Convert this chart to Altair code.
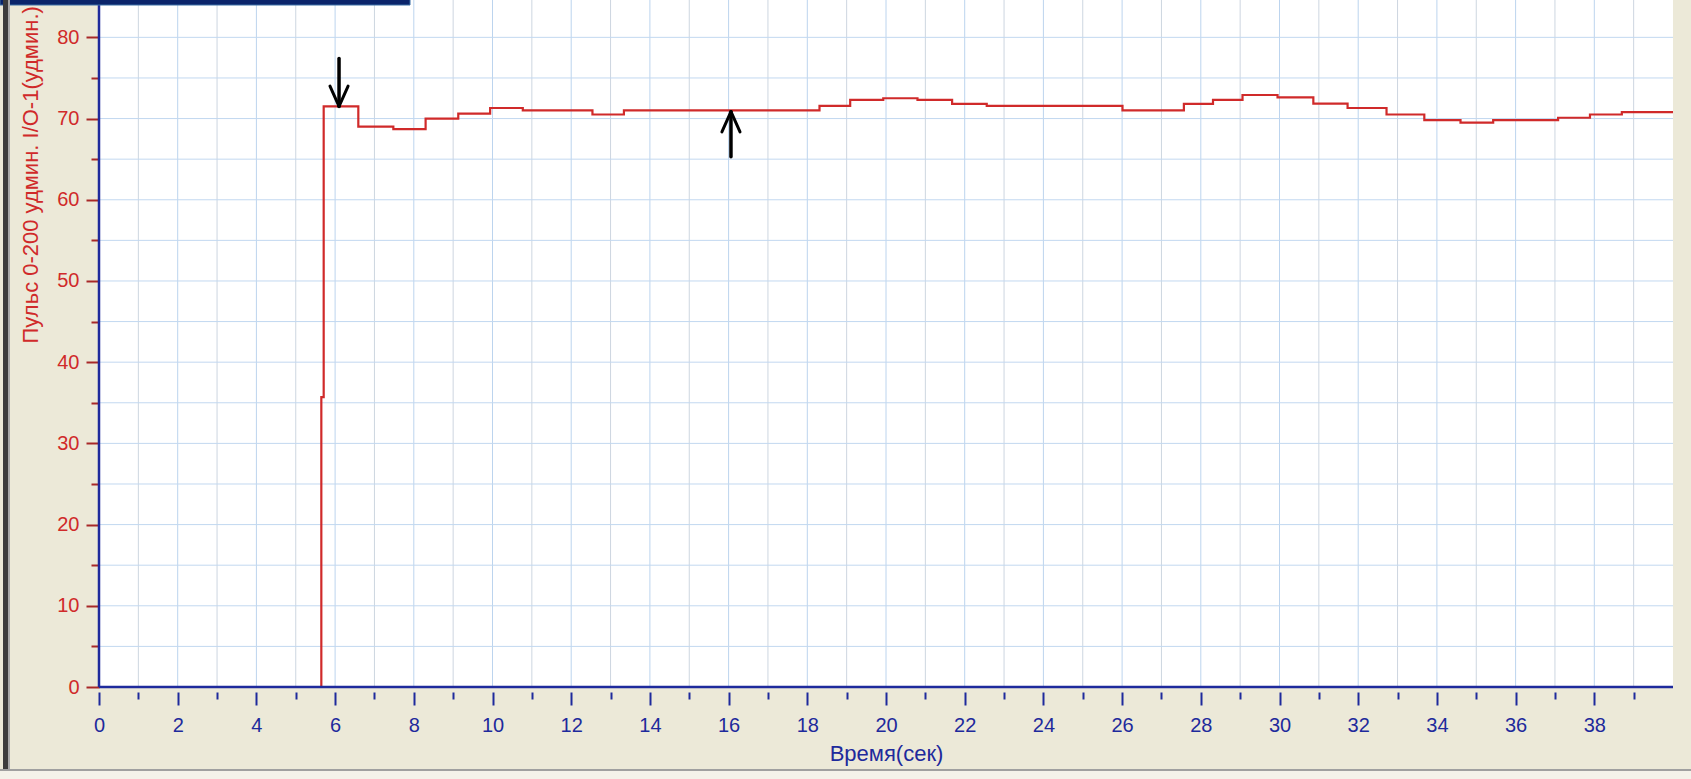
import altair as alt
import pandas as pd

# ---- data ----
times = [5.65, 5.65, 5.71, 6.59, 7.48, 8.30, 9.13, 9.94, 10.77, 12.54, 13.34,
         18.31, 19.09, 19.93, 20.80, 21.68, 22.56, 26.01, 27.57, 28.31, 29.06,
         29.95, 30.86, 31.73, 32.72, 33.68, 34.60, 35.43, 37.08, 37.89, 38.70, 40.0]
pulse = [0.0, 35.7, 71.5, 69.0, 68.7, 70.0, 70.6, 71.3, 71.0, 70.5, 71.0,
         71.55, 72.3, 72.5, 72.3, 71.8, 71.55, 71.0, 71.8, 72.3, 72.9,
         72.6, 71.85, 71.3, 70.5, 69.8, 69.5, 69.8, 70.1, 70.5, 70.8, 70.8]

arrow_t = [6.1, 16.06]
arrow_tip = [71.5, 70.85]
arrow_tail = [77.4, 65.3]

x_ticks = list(range(0, 40))
y_ticks = list(range(0, 85, 5))
vgrid_even = list(range(2, 40, 2))
vgrid_odd = list(range(1, 40, 2))
hgrid = list(range(5, 85, 5))

X_TITLE = "Время(сек)"
Y_TITLE = "Пульс 0-200 удмин. I/O-1(удмин.)"

# ---- styling ----
BLUE = "#1E2A9C"
RED = "#D02A2A"
RED_TICK = "#A82828"
BG = "#ECE9D8"
FONT = "Liberation Sans"
W, H = 1574, 687

x_scale = alt.Scale(domain=[0, 40], nice=False, zero=False)
y_scale = alt.Scale(domain=[0, 84.6], nice=False, zero=False)

x_axis = alt.Axis(
    values=x_ticks,
    labelExpr="datum.value % 2 === 0 ? datum.label : ''",
    tickSize={"condition": {"test": "datum.value % 2 === 0", "value": 13}, "value": 7},
    tickColor=BLUE, tickWidth=2,
    labelColor=BLUE, labelFont=FONT, labelFontSize=20, labelPadding=10,
    labelFlush=False,
    domain=False, grid=False, offset=5,
    title=X_TITLE, titleColor=BLUE, titleFont=FONT, titleFontSize=22,
    titleFontWeight="normal", titleX=W / 2, titleY=61,
    titleAlign="center", titleBaseline="middle",
)

y_axis = alt.Axis(
    values=y_ticks,
    labelExpr="datum.value % 10 === 0 ? datum.label : ''",
    tickSize={"condition": {"test": "datum.value % 10 === 0", "value": 13}, "value": 8},
    tickColor=RED_TICK, tickWidth=2,
    labelColor=RED, labelFont=FONT, labelFontSize=20, labelPadding=7,
    labelFlush=False,
    domain=False, grid=False,
    title=Y_TITLE, titleColor=RED, titleFont=FONT, titleFontSize=22,
    titleFontWeight="normal", titleAngle=270, titleAlign="left",
    titleBaseline="middle", titleX=-69, titleY=343,
)


def X(field):
    return alt.X(field, type="quantitative", scale=x_scale, axis=x_axis)


def Y(field):
    return alt.Y(field, type="quantitative", scale=y_scale, axis=y_axis)


df = pd.DataFrame({"t": times, "v": pulse})

# arrows: shafts + barbs
BARB_DX = 0.23
BARB_DY = 2.5
seg_rows = []
for t, tip, tail in zip(arrow_t, arrow_tip, arrow_tail):
    seg_rows.append({"t": t, "v": tail, "t2": t, "v2": tip, "w": 3.5})
    direction = 1 if tail > tip else -1
    for s in (-1, 1):
        seg_rows.append({"t": t, "v": tip, "t2": t + s * BARB_DX,
                         "v2": tip + direction * BARB_DY, "w": 3})
seg = pd.DataFrame(seg_rows)

vg_even = alt.Chart(pd.DataFrame({"t": vgrid_even})).mark_rule(
    color="#BCD4EE", strokeWidth=1
).encode(x=X("t"))

vg_odd = alt.Chart(pd.DataFrame({"t": vgrid_odd})).mark_rule(
    color="#CDD6E0", strokeWidth=1
).encode(x=X("t"))

hg = alt.Chart(pd.DataFrame({"v": hgrid})).mark_rule(
    color="#C2D8F0", strokeWidth=1
).encode(y=Y("v"))

line = alt.Chart(df).mark_line(
    interpolate="step-after", color=RED, strokeWidth=2.2
).encode(x=X("t"), y=Y("v"))

arrows = alt.Chart(seg).mark_rule(color="black", strokeCap="round").encode(
    x=X("t"), x2="t2:Q", y=Y("v"), y2="v2:Q",
    strokeWidth=alt.StrokeWidth("w:Q", scale=None),
)

x_line = alt.Chart(pd.DataFrame({"v": [0]})).mark_rule(color=BLUE, strokeWidth=2.5).encode(
    y=Y("v")
)
y_line = alt.Chart(pd.DataFrame({"t": [0]})).mark_rule(color=BLUE, strokeWidth=2.5).encode(
    x=X("t")
)

# window frame decorations
deco = pd.DataFrame({"a": [0]})
top_bar = alt.Chart(deco).mark_rect(color="#0A246A", stroke="#3A6EA5", strokeWidth=1).encode(
    x=alt.value(-99), x2=alt.value(311), y=alt.value(-2), y2=alt.value(5)
)
left_bar = alt.Chart(deco).mark_rect(color="#3C3C3C").encode(
    x=alt.value(-96), x2=alt.value(-91), y=alt.value(0), y2=alt.value(771)
)
left_edge = alt.Chart(deco).mark_rect(color="#A8A8A8").encode(
    x=alt.value(-91), x2=alt.value(-89), y=alt.value(0), y2=alt.value(771)
)
bottom_line = alt.Chart(deco).mark_rect(color="#A0A0A0").encode(
    x=alt.value(-99), x2=alt.value(W + 18), y=alt.value(769), y2=alt.value(771)
)
bottom_area = alt.Chart(deco).mark_rect(color="#F4F2EA").encode(
    x=alt.value(-99), x2=alt.value(W + 18), y=alt.value(771), y2=alt.value(779)
)

chart = alt.layer(
    vg_odd, vg_even, hg, line, arrows, x_line, y_line,
    top_bar, left_bar, left_edge, bottom_line, bottom_area,
).properties(
    width=W, height=H,
    autosize=alt.AutoSizeParams(type="none"),
    padding={"left": 99, "top": 0, "right": 18, "bottom": 92},
    background=BG,
).configure_view(
    fill="white", stroke=None
)

chart.save("out.html", embed_options={"renderer": "svg", "actions": False})
